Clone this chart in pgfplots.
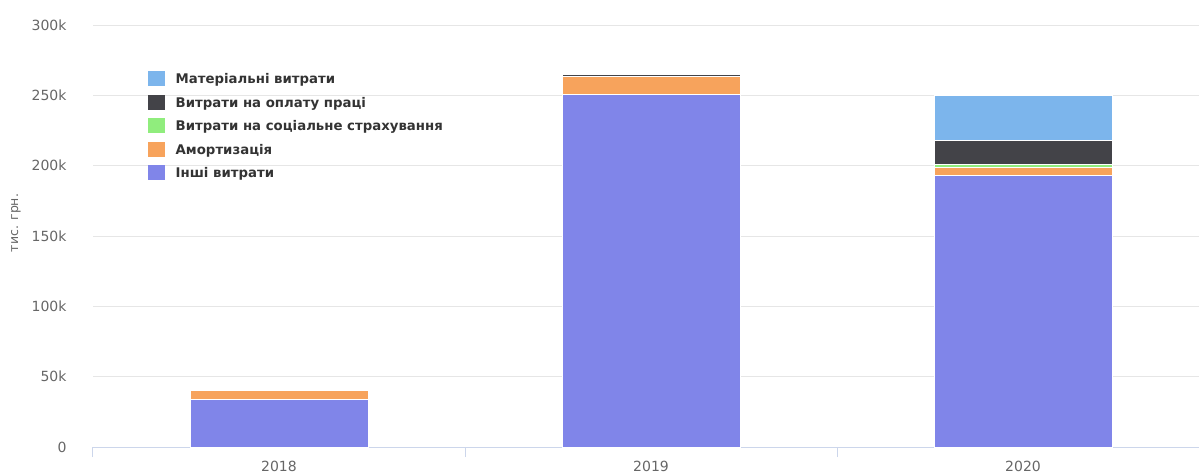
\documentclass[border=0pt]{standalone}
\usepackage{fontspec}
\setmainfont{DejaVu Sans}
\usepackage{pgfplots}
\pgfplotsset{compat=1.18}
\definecolor{cBlue}{HTML}{7CB5EC}
\definecolor{cDark}{HTML}{434348}
\definecolor{cGreen}{HTML}{90ED7D}
\definecolor{cOrange}{HTML}{F7A35C}
\definecolor{cPurple}{HTML}{8085E9}
\definecolor{gridcol}{HTML}{E6E6E6}
\definecolor{axiscol}{HTML}{CCD6EB}
\definecolor{labcol}{HTML}{666666}
\definecolor{legcol}{HTML}{333333}
\begin{document}
\begin{tikzpicture}
\useasboundingbox (-93pt,-28pt) rectangle (1106pt,447pt);
\begin{axis}[
  at={(0pt,0pt)}, anchor=south west,
  scale only axis, width=1106pt, height=422pt,
  xmin=-0.5, xmax=2.473, ymin=0, ymax=300000,
  ybar stacked, bar width=178pt,
  axis x line*=bottom, axis y line*=left,
  x axis line style={draw=axiscol, line width=1pt},
  y axis line style={draw=none},
  ymajorgrids, grid style={draw=gridcol, line width=1pt},
  ytick={0,50000,100000,150000,200000,250000,300000},
  yticklabels={0,50k,100k,150k,200k,250k,300k},
  scaled y ticks=false,
  ytick style={draw=none},
  yticklabel style={font=\fontsize{14}{16}\selectfont, text=labcol, anchor=east, xshift=-13pt},
  xtick={-0.5,0.5,1.5},
  xticklabels={},
  xtick style={draw=axiscol, line width=1pt},
  major tick length=10pt, tick align=outside,
  extra x ticks={0,1,2},
  extra x tick labels={2018,2019,2020},
  extra x tick style={major tick length=0pt, xtick style={draw=none},
    xticklabel style={font=\fontsize{14}{16}\selectfont, text=labcol, yshift=-11pt}},
  ylabel={тис. грн.},
  every axis y label/.style={at={(-77pt,224pt)}, anchor=center, rotate=90,
    font=\fontsize{12.5}{14}\selectfont, text=labcol},
  legend style={at={(55pt,376pt)}, anchor=north west, draw=none, fill=none,
    font=\bfseries\fontsize{13.3}{16}\selectfont, text=legcol,
    row sep=7.7pt, inner sep=0pt,
    cells={anchor=west}},
  legend cell align=left,
  reverse legend,
  legend image code/.code={\fill[#1, draw=none] (0pt,-7pt) rectangle (17pt,8pt); \path (25pt,0pt);},
]
\addplot[fill=cPurple, draw=white, line width=1pt] coordinates {(0,33700) (1,250400) (2,193200)};
\addlegendentry{Інші витрати}
\addplot[fill=cOrange, draw=white, line width=1pt] coordinates {(0,6500) (1,13200) (2,5200)};
\addlegendentry{Амортизація}
\addplot[fill=cGreen, draw=white, line width=1pt] coordinates {(0,0) (1,0) (2,2600)};
\addlegendentry{Витрати на соціальне страхування}
\addplot[fill=cDark, draw=white, line width=1pt] coordinates {(0,0) (1,1500) (2,17000)};
\addlegendentry{Витрати на оплату праці}
\addplot[fill=cBlue, draw=white, line width=1pt] coordinates {(0,0) (1,0) (2,32000)};
\addlegendentry{Матеріальні витрати}
\end{axis}
\end{tikzpicture}
\end{document}
